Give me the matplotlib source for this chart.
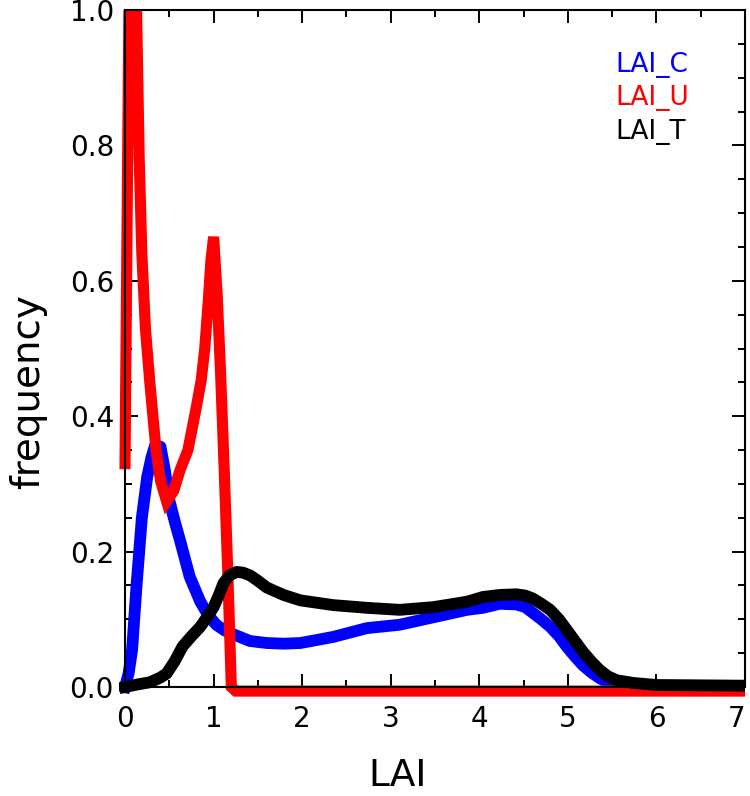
import matplotlib
matplotlib.use('Agg')
import matplotlib.pyplot as plt
from matplotlib.ticker import MultipleLocator, FormatStrFormatter
from matplotlib.patches import Rectangle

# LAI_C (blue)
xc = [0.0, 0.04, 0.08, 0.13, 0.19, 0.25, 0.30, 0.34, 0.40, 0.45, 0.50, 0.56, 0.62, 0.73, 0.85, 0.94,
      1.03, 1.12, 1.22, 1.41, 1.60, 1.79, 1.98, 2.35, 2.73, 3.10, 3.48, 3.86, 4.04, 4.23, 4.42, 4.52,
      4.60, 4.70, 4.80, 4.90, 4.99, 5.08, 5.17, 5.27, 5.36, 5.45, 5.55, 5.70, 6.0, 6.5, 7.0]
yc = [0.0, 0.02, 0.055, 0.15, 0.25, 0.31, 0.34, 0.357, 0.355, 0.32, 0.276, 0.245, 0.217, 0.163, 0.126, 0.106,
      0.092, 0.084, 0.078, 0.068, 0.065, 0.064, 0.065, 0.074, 0.087, 0.092, 0.103, 0.114, 0.117, 0.123, 0.122, 0.118,
      0.11, 0.10, 0.089, 0.075, 0.059, 0.045, 0.032, 0.021, 0.013, 0.007, 0.003, 0.001, 0.0, 0.0, 0.0]

# LAI_U (red)
xu = [0.0, 0.07, 0.11, 0.16, 0.19, 0.23, 0.28, 0.35, 0.40, 0.47, 0.55, 0.62, 0.71, 0.80, 0.86,
      0.90, 0.94, 0.97, 1.0, 1.04, 1.08, 1.12, 1.16, 1.20, 1.25, 7.0]
yu = [0.33, 1.4, 1.15, 0.78, 0.64, 0.53, 0.45, 0.35, 0.305, 0.274, 0.29, 0.32, 0.35, 0.41, 0.453,
      0.50, 0.57, 0.63, 0.665, 0.58, 0.46, 0.32, 0.17, 0.0, -0.006, -0.006]

# LAI_T (black)
xt = [0.0, 0.15, 0.28, 0.40, 0.47, 0.56, 0.65, 0.75, 0.85, 0.93, 1.0, 1.06, 1.11, 1.18, 1.26, 1.33,
      1.41, 1.50, 1.60, 1.79, 1.98, 2.35, 2.73, 3.10, 3.48, 3.86, 4.04, 4.23, 4.42, 4.52, 4.60, 4.70,
      4.80, 4.90, 4.99, 5.08, 5.17, 5.27, 5.36, 5.45, 5.55, 5.74, 6.0, 7.0]
yt = [0.0, 0.004, 0.007, 0.014, 0.02, 0.038, 0.06, 0.075, 0.089, 0.104, 0.118, 0.136, 0.153, 0.165, 0.17, 0.169,
      0.165, 0.157, 0.147, 0.136, 0.128, 0.121, 0.117, 0.114, 0.118, 0.126, 0.133, 0.136, 0.137, 0.135, 0.131, 0.123,
      0.114, 0.10, 0.084, 0.068, 0.052, 0.037, 0.025, 0.016, 0.01, 0.006, 0.003, 0.002]

xticks = [0, 1, 2, 3, 4, 5, 6, 7]

plt.rcParams['font.family'] = ['DejaVu Sans']

fig = plt.figure(figsize=(7.5, 7.96), dpi=100)
ax = fig.add_axes([0.1667, 0.1369, 0.8267, 0.8505])

# clip at top and right of the frame, but let the lines at zero show fully
clip = Rectangle((-0.01, -0.02), 1.01, 1.02, transform=ax.transAxes, fill=False, visible=False)
ax.add_patch(clip)

lc, = ax.plot(xc, yc, color='blue', lw=8.5, zorder=2)
lu, = ax.plot(xu, yu, color='red', lw=8, solid_joinstyle='miter', zorder=3)
lt, = ax.plot(xt, yt, color='black', lw=8.5, zorder=4)
for ln in (lc, lu, lt):
    ln.set_clip_path(clip)

ax.set_xlim(0, 7)
ax.set_ylim(0, 1.0)
ax.set_xticks(xticks)
ax.xaxis.set_minor_locator(MultipleLocator(0.5))
ax.yaxis.set_major_locator(MultipleLocator(0.2))
ax.yaxis.set_minor_locator(MultipleLocator(0.05))
ax.yaxis.set_major_formatter(FormatStrFormatter('%.1f'))
ax.tick_params(which='both', direction='in', top=True, right=True, width=1.4)
ax.tick_params(which='major', length=9.5, labelsize=20)
ax.tick_params(which='minor', length=5)
ax.tick_params(axis='y', pad=8)
ax.tick_params(axis='x', pad=13)
for s in ax.spines.values():
    s.set_linewidth(1.5)
    s.set_zorder(5)

ax.set_xlabel('LAI', fontsize=27)
ax.set_ylabel('frequency', fontsize=28)
ax.xaxis.set_label_coords(0.44, -0.105)
ax.yaxis.set_label_coords(-0.125, 0.437)

fig.text(0.82, 0.918, 'LAI_C', color='blue', fontsize=19, va='center')
fig.text(0.82, 0.877, 'LAI_U', color='red', fontsize=19, va='center')
fig.text(0.82, 0.834, 'LAI_T', color='black', fontsize=19, va='center')

# keep the "7" inside the picture
fig.canvas.draw()
for lab in ax.get_xticklabels():
    if lab.get_text() == '7':
        lab.set_horizontalalignment('right')

plt.savefig('out.png', dpi=100)
plt.close()
